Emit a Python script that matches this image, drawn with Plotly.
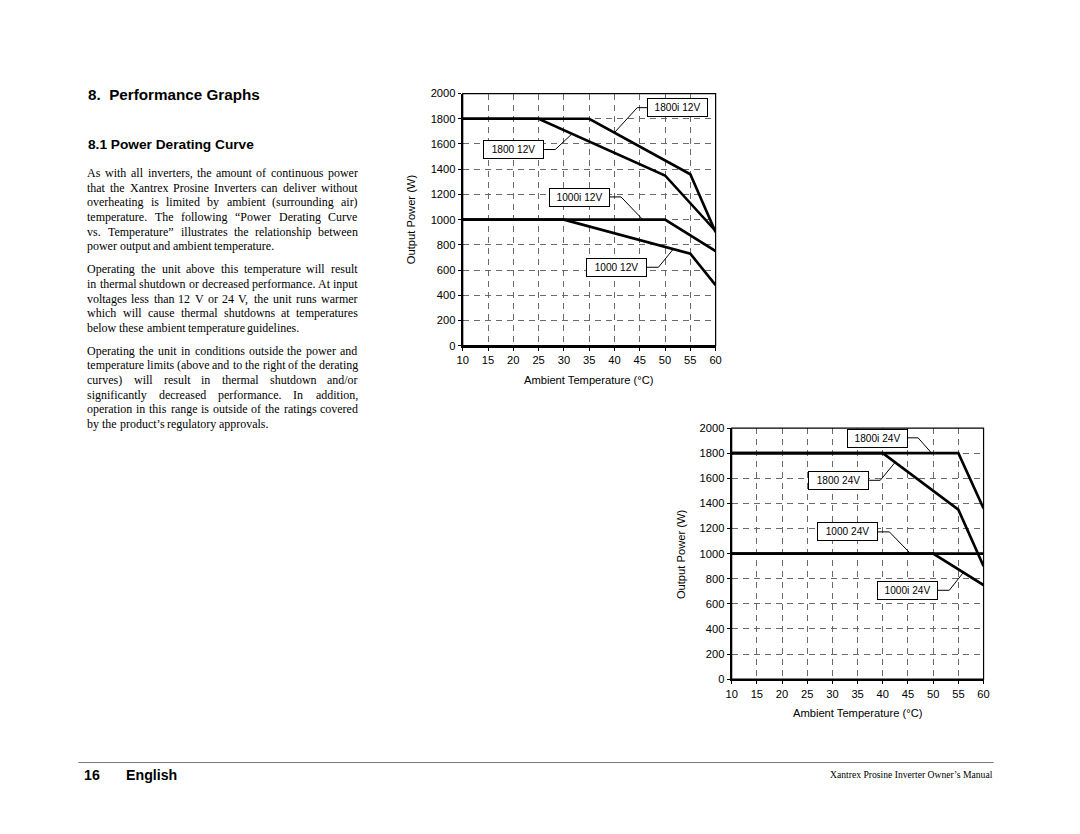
import plotly.graph_objects as go

W, H = 1080, 834
# The captured page shows the figure offset by the 8px body margin and scaled
# from 1096x850 down to 1080x834; page coordinates are mapped back through this.
OFF = 8
SX = (W + 2 * OFF) / W
SY = (H + 2 * OFF) / H
K = SX  # font / size compensation

# ---------------- data ----------------
x_ticks = [10, 15, 20, 25, 30, 35, 40, 45, 50, 55, 60]
y_ticks = [0, 200, 400, 600, 800, 1000, 1200, 1400, 1600, 1800, 2000]

# 12 V chart
t_1800i_12 = [10, 35, 55, 60]
p_1800i_12 = [1800, 1800, 1360, 900]
t_1800_12 = [10, 25, 50, 60]
p_1800_12 = [1800, 1800, 1350, 910]
t_1000i_12 = [10, 50, 60]
p_1000i_12 = [1000, 1000, 750]
t_1000_12 = [10, 30, 55, 60]
p_1000_12 = [1000, 1000, 730, 480]

# 24 V chart
t_1800i_24 = [10, 55, 60]
p_1800i_24 = [1800, 1800, 1360]
t_1800_24 = [10, 40, 55, 60]
p_1800_24 = [1800, 1800, 1350, 900]
t_1000_24 = [10, 60]
p_1000_24 = [1000, 1000]
t_1000i_24 = [10, 50, 60]
p_1000i_24 = [1000, 1000, 750]

# labels: (text, label x, label y, leader x list, leader y list)
labels_12 = [
    ("1800i 12V", 52.5, 1888, [46.7, 44.5, 40.0], [1888, 1888, 1690]),
    ("1800 12V", 20.1, 1554, [26.1, 28.3, 31.6], [1556, 1556, 1680]),
    ("1000i 12V", 33.0, 1175, [39.0, 41.3, 45.6], [1180, 1180, 1000]),
    ("1000 12V", 40.5, 617, [46.3, 48.7, 51.6], [622, 622, 765]),
]
labels_24 = [
    ("1800i 24V", 38.9, 1920, [44.7, 47.0, 49.7], [1922, 1922, 1800]),
    ("1800 24V", 31.3, 1584, [37.3, 39.5, 42.4], [1584, 1584, 1725]),
    ("1000 24V", 33.0, 1173, [39.0, 41.3, 45.5], [1173, 1173, 1000]),
    ("1000i 24V", 44.9, 704, [50.8, 53.2, 56.0], [708, 708, 850]),
]

para1 = [
    "As with all inverters, the amount of continuous power",
    "that the Xantrex Prosine Inverters can deliver without",
    "overheating is limited by ambient (surrounding air)",
    "temperature.  The following \u201cPower Derating Curve",
    "vs. Temperature\u201d illustrates the relationship between",
    "power output and ambient temperature.",
]
para2 = [
    "Operating the unit above this temperature will result",
    "in thermal shutdown or decreased performance. At input",
    "voltages less than 12 V or 24 V, the unit runs warmer",
    "which will cause thermal shutdowns at temperatures",
    "below these ambient temperature guidelines.",
]
para3 = [
    "Operating the unit in conditions outside the power and",
    "temperature limits (above and to the right of the derating",
    "curves) will result in thermal shutdown and/or",
    "significantly decreased performance. In addition,",
    "operation in this range is outside of the ratings covered",
    "by the product\u2019s regulatory approvals.",
]

# ---------------- layout helpers (page pixel -> figure pixel -> paper) ----------------
def fx(x):
    return x * SX - OFF

def fy(y):
    return y * SY - OFF

def px(x):
    return fx(x) / W

def py(y):
    return 1 - fy(y) / H

# Times / Liberation Serif advance widths (1/1000 em) for justification
TW = {' ': 250, '!': 333, '(': 333, ')': 333, ',': 250, '-': 333, '.': 250, '/': 278,
      ':': 278, ';': 278, '?': 444, '\u2019': 333, '\u201c': 444, '\u201d': 444}
for ch in "0123456789":
    TW[ch] = 500
TW.update(dict(zip("ABCDEFGHIJKLMNOPQRSTUVWXYZ",
                   [722, 667, 667, 722, 611, 556, 722, 722, 333, 389, 722, 611, 889,
                    722, 722, 556, 722, 667, 556, 611, 722, 722, 944, 722, 722, 611])))
TW.update(dict(zip("abcdefghijklmnopqrstuvwxyz",
                   [444, 500, 444, 500, 444, 333, 500, 500, 278, 278, 500, 278, 778,
                    500, 500, 500, 500, 333, 389, 278, 500, 500, 722, 500, 500, 444])))

def tw(s, size):
    return sum(TW.get(c, 500) for c in s) * size / 1000.0

fig = go.Figure()

curve_style = dict(color="black", width=2.6 * K)
lead_style = dict(color="black", width=1)

for t, p in [(t_1800i_12, p_1800i_12), (t_1800_12, p_1800_12),
             (t_1000i_12, p_1000i_12), (t_1000_12, p_1000_12)]:
    fig.add_trace(go.Scatter(x=t, y=p, mode="lines", line=curve_style,
                             xaxis="x", yaxis="y", showlegend=False, hoverinfo="skip"))
for t, p in [(t_1800i_24, p_1800i_24), (t_1800_24, p_1800_24),
             (t_1000_24, p_1000_24), (t_1000i_24, p_1000i_24)]:
    fig.add_trace(go.Scatter(x=t, y=p, mode="lines", line=curve_style,
                             xaxis="x2", yaxis="y2", showlegend=False, hoverinfo="skip"))

sans = "Liberation Sans, Arial"
serif = "Liberation Serif, Times New Roman"

annotations = []
for labs, xr, yr in [(labels_12, "x", "y"), (labels_24, "x2", "y2")]:
    for txt, lx, ly, lxs, lys in labs:
        fig.add_trace(go.Scatter(x=lxs, y=lys, mode="lines", line=lead_style,
                                 xaxis=xr, yaxis=yr, showlegend=False, hoverinfo="skip"))
        annotations.append(dict(x=lx, y=ly, xref=xr, yref=yr, text=txt, showarrow=False,
                                font=dict(family=sans, size=10 * K, color="black"),
                                bgcolor="white", bordercolor="black", borderwidth=1,
                                borderpad=3, width=53, height=11))

axis_common = dict(range=[10, 60], showgrid=True, gridcolor="#6a6a6a", gridwidth=1,
                   griddash="6px,5px", zeroline=False, showline=True, linecolor="black",
                   linewidth=2, ticks="outside", ticklen=3, tickcolor="black",
                   tickfont=dict(family=sans, size=11 * K, color="black"),
                   fixedrange=True)

c1 = dict(x0=463, x1=715, y0=95, y1=346)
c2 = dict(x0=731, x1=982, y0=428, y1=678)

layout = dict(
    width=W, height=H, margin=dict(l=0, r=0, t=0, b=0),
    paper_bgcolor="white", plot_bgcolor="white", showlegend=False,
    xaxis=dict(axis_common, domain=[px(c1["x0"]), px(c1["x1"])], anchor="y", tickvals=x_ticks),
    yaxis=dict(axis_common, range=[0, 2000], domain=[py(c1["y1"]), py(c1["y0"])], anchor="x", tickvals=y_ticks),
    xaxis2=dict(axis_common, domain=[px(c2["x0"]), px(c2["x1"])], anchor="y2", tickvals=x_ticks),
    yaxis2=dict(axis_common, range=[0, 2000], domain=[py(c2["y1"]), py(c2["y0"])], anchor="x2", tickvals=y_ticks),
)

shapes = []
for c in (c1, c2):
    shapes.append(dict(type="rect", xref="paper", yref="paper",
                       x0=px(c["x0"]), x1=px(c["x1"]), y0=py(c["y1"]), y1=py(c["y0"]),
                       line=dict(color="black", width=1.2)))
# footer rule
shapes.append(dict(type="line", xref="paper", yref="paper", x0=px(80), x1=px(992),
                   y0=py(761), y1=py(761), line=dict(color="#777777", width=1)))

# axis titles
for c, xt_y, yt_x in [(c1, 380, 411), (c2, 712, 680)]:
    annotations.append(dict(x=px((c["x0"] + c["x1"]) / 2), y=py(xt_y), xref="paper", yref="paper",
                            text="Ambient Temperature (\u00b0C)", showarrow=False,
                            font=dict(family=sans, size=11 * K, color="black"),
                            xanchor="center", yanchor="middle"))
    annotations.append(dict(x=px(yt_x), y=py((c["y0"] + c["y1"]) / 2), xref="paper", yref="paper",
                            text="Output Power (W)", showarrow=False, textangle=-90,
                            font=dict(family=sans, size=11 * K, color="black"),
                            xanchor="center", yanchor="middle"))

# headings
annotations.append(dict(x=px(88), y=py(96), xref="paper", yref="paper",
                        text="<b>8.  Performance Graphs</b>", showarrow=False,
                        font=dict(family=sans, size=15 * K, color="black"),
                        xanchor="left", yanchor="middle"))
annotations.append(dict(x=px(88), y=py(146), xref="paper", yref="paper",
                        text="<b>8.1 Power Derating Curve</b>", showarrow=False,
                        font=dict(family=sans, size=13.5 * K, color="black"),
                        xanchor="left", yanchor="middle"))

# body text, justified word by word (computed in figure pixels)
body_size = 11.8 * K
left_f, right_f = fx(88), fx(357)
line_gap = 14.6
for lines, y0 in [(para1, 174), (para2, 270), (para3, 351)]:
    for i, ln in enumerate(lines):
        words = ln.split()
        last = (i == len(lines) - 1)
        widths = [tw(w, body_size) for w in words]
        if last or len(words) < 2:
            gap = tw(" ", body_size)
        else:
            gap = (right_f - left_f - sum(widths)) / (len(words) - 1)
        xcur = left_f
        for w, wd in zip(words, widths):
            annotations.append(dict(x=xcur / W, y=py(y0 + i * line_gap), xref="paper", yref="paper",
                                    text=w, showarrow=False, borderpad=0,
                                    font=dict(family=serif, size=body_size, color="black"),
                                    xanchor="left", yanchor="middle"))
            xcur += wd + gap

# footer
annotations.append(dict(x=px(84), y=py(773), xref="paper", yref="paper",
                        text="<b>16</b>", showarrow=False,
                        font=dict(family=sans, size=14 * K, color="black"),
                        xanchor="left", yanchor="middle"))
annotations.append(dict(x=px(125), y=py(773), xref="paper", yref="paper",
                        text="<b>English</b>", showarrow=False,
                        font=dict(family=sans, size=14 * K, color="black"),
                        xanchor="left", yanchor="middle"))
annotations.append(dict(x=px(993), y=py(773), xref="paper", yref="paper",
                        text="Xantrex Prosine Inverter Owner\u2019s Manual", showarrow=False,
                        font=dict(family=serif, size=9.5 * K, color="black"),
                        xanchor="right", yanchor="middle"))

layout["shapes"] = shapes
layout["annotations"] = annotations
fig.update_layout(**layout)

fig.write_html("out.html", config={"displayModeBar": False})
